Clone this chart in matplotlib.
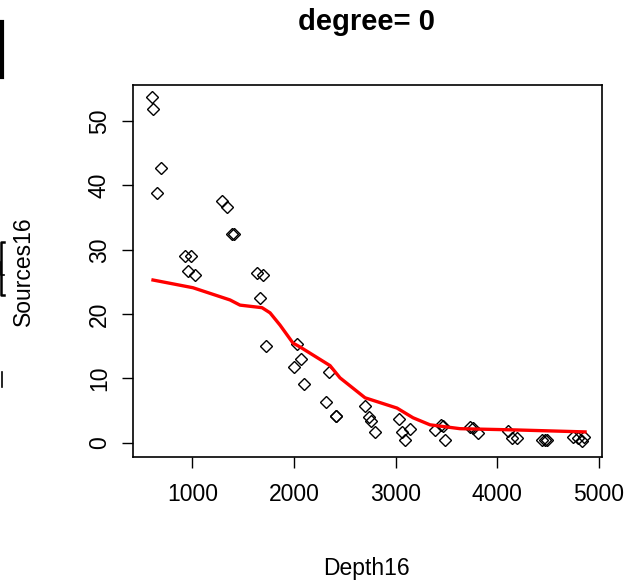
import matplotlib
matplotlib.use('Agg')
import matplotlib.pyplot as plt
from matplotlib.lines import Line2D

# observed points (Depth16, Sources16)
depth = [601, 611, 650, 690, 926, 985, 956, 1025, 1291, 1340, 1389, 1409,
         1635, 1695, 1665, 1724, 2030, 2069, 2000, 2099, 2345, 2315, 2410, 2418,
         2700, 2739, 2759, 2798, 3034, 3064, 3143, 3094, 3389, 3450, 3465, 3488,
         3734, 3764, 3813, 4108, 4148, 4197, 4443, 4473, 4493, 4749, 4798, 4837, 4857]
sources = [53.7, 51.9, 38.8, 42.7, 29.0, 29.0, 26.7, 26.1, 37.6, 36.6, 32.5, 32.5,
           26.4, 26.1, 22.5, 15.1, 15.4, 13.0, 11.8, 9.2, 11.0, 6.4, 4.2, 4.1,
           5.7, 4.0, 3.4, 1.7, 3.7, 1.7, 2.2, 0.5, 2.0, 2.8, 2.6, 0.5,
           2.5, 2.3, 1.6, 1.9, 0.8, 0.8, 0.5, 0.5, 0.5, 0.9, 0.8, 0.3, 0.9]

# local regression (degree 0) fitted curve
fit_x = [611, 1005, 1370, 1468, 1685, 1764, 1862, 1990, 2059, 2355, 2453,
         2700, 2818, 3015, 3172, 3340, 3635, 4197, 4867]
fit_y = [25.3, 24.1, 22.2, 21.4, 21.0, 20.2, 18.3, 15.5, 14.9, 12.0, 10.1,
         7.0, 6.4, 5.4, 3.9, 2.8, 2.2, 2.0, 1.7]

plt.rcParams['font.family'] = ['Liberation Sans', 'DejaVu Sans']

W, H = 629, 587
fig = plt.figure(figsize=(W / 100, H / 100), dpi=100)
ax = fig.add_axes([133/W, 1 - 457/H, (602-133)/W, (457-85)/H])

ax.plot(depth, sources, linestyle='none', marker='D', ms=6.3,
        mfc='none', mec='black', mew=1.0)
ax.plot(fit_x, fit_y, color='red', lw=2.4)

ax.set_xlim(414, 5034)
ax.set_ylim(-2.2, 55.6)
ax.set_xticks([1000, 2000, 3000, 4000, 5000])
ax.set_yticks([0, 10, 20, 30, 40, 50])
ax.set_yticklabels(['0', '10', '20', '30', '40', '50'], rotation=90, va='center')
ax.tick_params(direction='out', length=8, width=1, labelsize=16.5, pad=11)
ax.tick_params(axis='y', pad=8)
for s in ax.spines.values():
    s.set_linewidth(1.2)

ax.set_xlabel('Depth16', fontsize=16.5, va='center')
ax.xaxis.set_label_coords(366/W, 1 - 568/H, transform=fig.transFigure)
ax.set_ylabel('Sources16', fontsize=16.5, va='center')
ax.yaxis.set_label_coords(23/W, 1 - 271/H, transform=fig.transFigure)
fig.text(366/W, 1 - 22/H, 'degree= 0', ha='center', va='center',
         fontsize=21, fontweight='bold')

# clipped fragments of a neighbouring panel at the left edge
def px_line(xs, ys, lw):
    fig.add_artist(Line2D([x / W for x in xs], [1 - y / H for y in ys],
                          color='black', lw=lw, transform=fig.transFigure))
px_line([1.5, 1.5], [22, 77], 3)
px_line([4, 1, 1, 4], [242, 242, 295, 295], 1.8)
px_line([1, 1, 4], [262, 275, 275], 1.2)
px_line([2, 2], [372, 387], 1.2)

fig.savefig('out.png', dpi=100)
